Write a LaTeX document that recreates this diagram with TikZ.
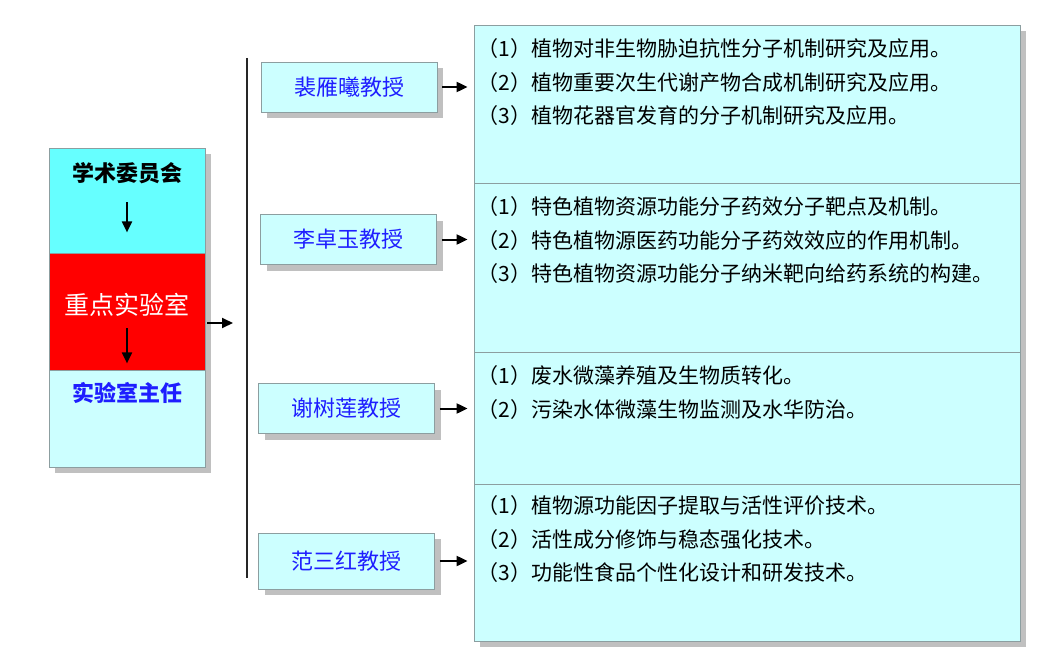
\documentclass[tikz,border=0pt]{standalone}
\usepackage{fontspec}
\setmainfont{Noto Sans CJK SC}
\usepackage{tikz}
\usetikzlibrary{arrows.meta,shadows,positioning}
\definecolor{boxcyan}{HTML}{CCFFFF}
\definecolor{headcyan}{HTML}{66FFFF}
\definecolor{labred}{HTML}{FF0000}
\definecolor{edgegray}{HTML}{8C9EA0}
\definecolor{shadowgray}{HTML}{C0C0C0}
\definecolor{nameblue}{HTML}{1E1EFF}

\begin{document}
\begin{tikzpicture}[x=1pt, y=-1pt,
  shadowed/.style={drop shadow={shadow xshift=6pt, shadow yshift=-6pt, fill=shadowgray, opacity=1}},
  stack/.style={draw=edgegray, line width=0.8pt, minimum width=156pt, inner sep=0pt, shadowed},
  prof/.style={draw=edgegray, line width=0.8pt, fill=boxcyan, minimum width=176pt, minimum height=50pt, inner sep=0pt, text=nameblue, font=\fontsize{22}{22}\selectfont, shadowed},
  topic/.style={draw=edgegray, line width=0.8pt, fill=boxcyan, minimum width=546pt, inner sep=0pt, shadowed},
  topictext/.style={anchor=north west, inner sep=0pt, align=left, font=\fontsize{21}{33.5}\selectfont},
  arrow/.style={-{Triangle[length=11pt,width=10pt]}, line width=2pt},
  bus/.style={line width=1.5pt, black!85}
]
\useasboundingbox (0,0) rectangle (1040,663);

% Left stack
\node[stack, fill=headcyan, minimum height=105pt] (acadbox) at (127,200.5) {};
\node[stack, fill=labred, minimum height=117pt] (labbox) at (127,311.5) {};
\node[stack, fill=boxcyan, minimum height=97pt] (dirbox) at (127,418.5) {};
\node[font=\fontsize{22}{22}\selectfont\bfseries] (acad) at (127,173) {学术委员会};
\node[font=\fontsize{25}{25}\selectfont, text=white] (lab) at (127,305) {重点实验室};
\node[font=\fontsize{22}{22}\selectfont\bfseries, text=nameblue] (dir) at (127,393) {实验室主任};
\draw[arrow, shorten <=1.5pt, shorten >=21pt] (acadbox.center) -- (acadbox.south);
\draw[arrow, shorten <=16.5pt, shorten >=7pt] (labbox.center) -- (labbox.south);

% Bus line
\coordinate (bustop) at (247,58);
\coordinate (busbot) at (247,578);
\coordinate (busin) at (233,323);
\draw[bus] (bustop) -- (busbot);
\draw[arrow, shorten <=2pt] (labbox.east |- busin) -- (busin);

% Professors
\node[prof] (pei) at (349,87) {裴雁曦教授};
\node[prof] (li) at (348.5,239.5) {李卓玉教授};
\node[prof] (xie) at (346.5,408.5) {谢树莲教授};
\node[prof, minimum height=56pt] (fan) at (346.5,561) {范三红教授};

% Research topics
\node[topic, minimum height=158pt] (plant) at (747,104) {};
\node[topic, minimum height=169pt] (pharm) at (747,267.5) {};
\node[topic, minimum height=132pt] (algae) at (747,418) {};
\node[topic, minimum height=157pt] (food) at (747,562.5) {};
\node[topictext] (plantlist) at ([xshift=4pt,yshift=-14pt]plant.north west)
  {（1）植物对非生物胁迫抗性分子机制研究及应用。\\（2）植物重要次生代谢产物合成机制研究及应用。\\（3）植物花器官发育的分子机制研究及应用。};
\node[topictext] (pharmlist) at ([xshift=4pt,yshift=-14pt]pharm.north west)
  {（1）特色植物资源功能分子药效分子靶点及机制。\\（2）特色植物源医药功能分子药效效应的作用机制。\\（3）特色植物资源功能分子纳米靶向给药系统的构建。};
\node[topictext] (algaelist) at ([xshift=4pt,yshift=-14pt]algae.north west)
  {（1）废水微藻养殖及生物质转化。\\（2）污染水体微藻生物监测及水华防治。};
\node[topictext] (foodlist) at ([xshift=4pt,yshift=-12pt]food.north west)
  {（1）植物源功能因子提取与活性评价技术。\\（2）活性成分修饰与稳态强化技术。\\（3）功能性食品个性化设计和研发技术。};

% Arrows to topics
\draw[arrow, shorten <=5pt, shorten >=6pt] (pei) -- (pei -| plant.west);
\draw[arrow, shorten <=5pt, shorten >=6pt] (li) -- (li -| pharm.west);
\draw[arrow, shorten <=5pt, shorten >=6pt] (xie) -- (xie -| algae.west);
\draw[arrow, shorten <=5pt, shorten >=6pt] (fan) -- (fan -| food.west);
\end{tikzpicture}
\end{document}
